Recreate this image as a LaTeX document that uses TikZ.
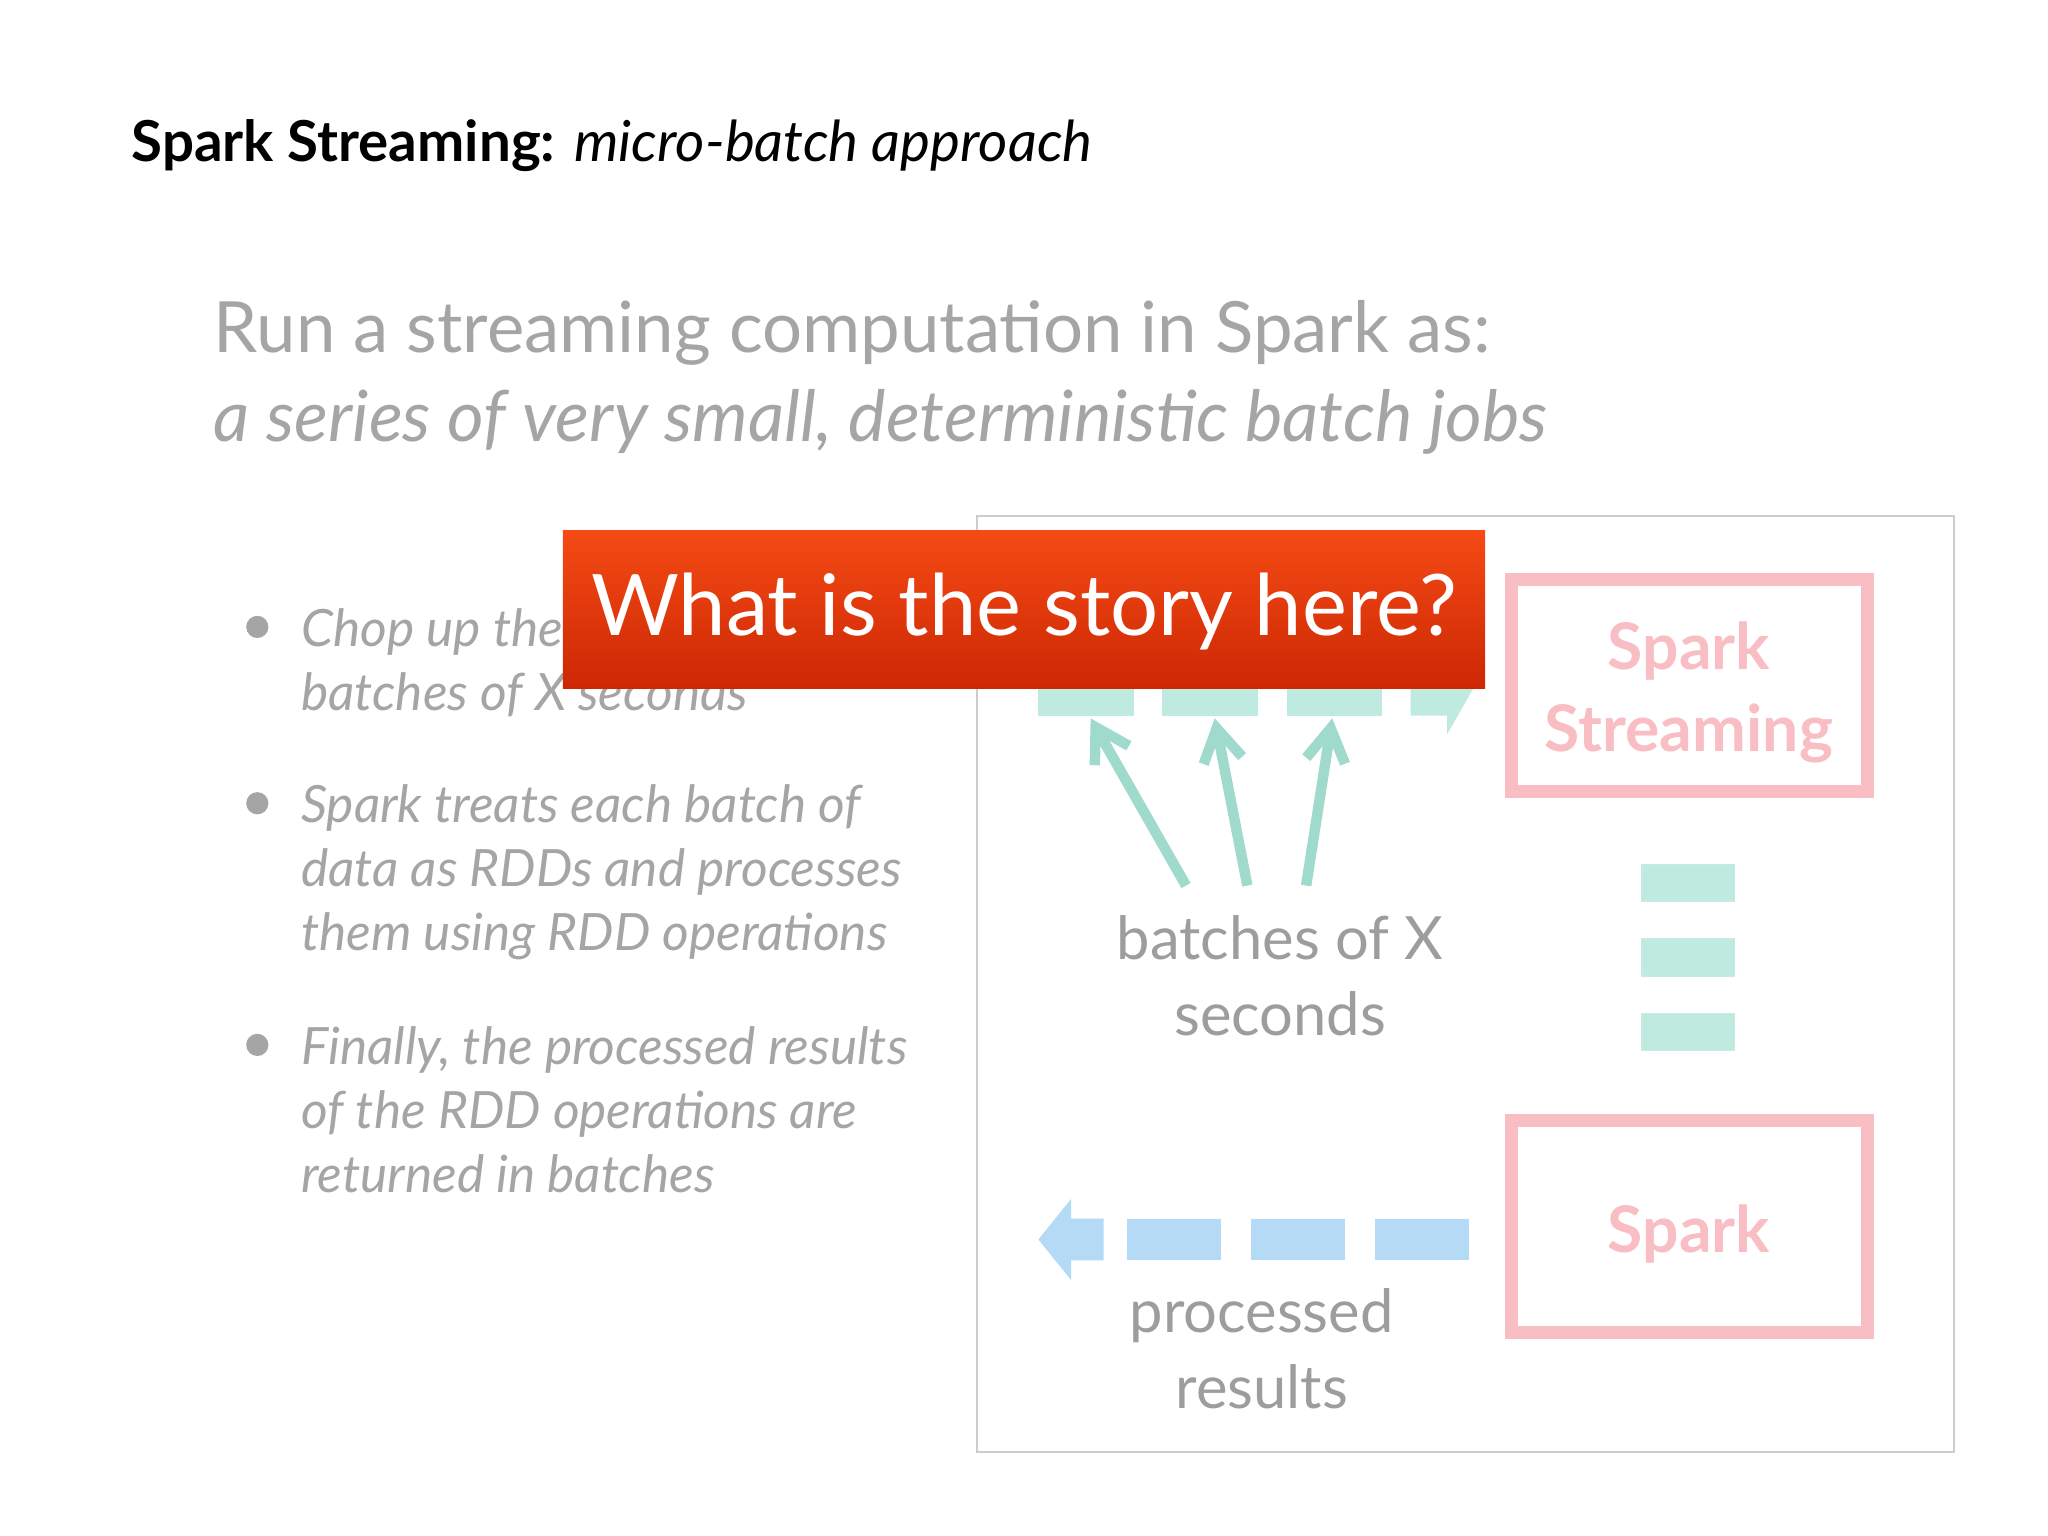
\documentclass[tikz,border=0pt]{standalone}
\usepackage{fontspec}
\setmainfont{Lato}
\usetikzlibrary{shapes.arrows,arrows.meta}
\definecolor{txtgray}{RGB}{165,165,165}
\definecolor{teal1}{RGB}{190,234,224}
\definecolor{teal2}{RGB}{160,218,205}
\definecolor{blue1}{RGB}{180,218,245}
\definecolor{pink1}{RGB}{248,190,195}
\definecolor{redtop}{RGB}{244,74,20}
\definecolor{redbot}{RGB}{205,40,5}
\tikzset{
  bul/.style={anchor=base west,inner sep=0,font=\fontsize{11.2}{14}\selectfont\itshape,text=txtgray},
  lbl/.style={font=\fontsize{13}{16}\selectfont,text=txtgray!95!black,align=center},
  pinkbox/.style={draw=pink1,line width=1.0mm},
  pinktxt/.style={font=\fontsize{14}{18}\selectfont\bfseries,text=pink1},
  tealseg/.style={fill=teal1,draw=none},
  blueseg/.style={fill=blue1,draw=none},
  tarr/.style={draw=teal2,line width=0.8mm,-{Straight Barb[length=2.5mm,width=3mm]}}
}
\begin{document}
\begin{tikzpicture}[x=1cm,y=1cm]
\useasboundingbox[fill=white] (0,0) rectangle (15.68,-11.76);
% title
\node[anchor=base west,inner sep=0] (title) at (1.0,-1.24) {\fontsize{12.3}{14}\selectfont\textbf{Spark Streaming:} \itshape micro-batch approach};
% heading
\node[anchor=base west,inner sep=0,text=txtgray] (h1) at (1.63,-2.70) {\fontsize{15.4}{20}\selectfont Run a streaming computation in Spark as:};
\node[anchor=base west,inner sep=0,text=txtgray] (h2) at (1.63,-3.38) {\fontsize{15.4}{20}\selectfont\itshape a series of very small, deterministic batch jobs};
% bullets
\foreach \y in {4.82,6.17,8.02}{\fill[txtgray] (1.97,-\y+0.02) circle (0.085);}
\node[bul] (b1a) at (2.30,-4.95) {Chop up the live stream into};
\node[bul] (b1b) at (2.30,-5.44) {batches of X seconds};
\node[bul] (b2a) at (2.30,-6.30) {Spark treats each batch of};
\node[bul] (b2b) at (2.30,-6.79) {data as RDDs and processes};
\node[bul] (b2c) at (2.30,-7.28) {them using RDD operations};
\node[bul] (b3a) at (2.30,-8.15) {Finally, the processed results};
\node[bul] (b3b) at (2.30,-8.64) {of the RDD operations are};
\node[bul] (b3c) at (2.30,-9.13) {returned in batches};
% frame
\draw[draw=black!20,fill=white] (7.48,-3.95) rectangle (14.96,-11.12);
% teal stream
\fill[tealseg] (7.95,-5.20) rectangle (8.68,-5.48);
\fill[tealseg] (8.90,-5.20) rectangle (9.63,-5.48);
\fill[tealseg] (9.85,-5.20) rectangle (10.58,-5.48);
\fill[tealseg] (10.80,-5.20) -- (11.32,-5.20) -- (11.08,-5.62) -- (11.08,-5.48) -- (10.80,-5.48) -- cycle;
\coordinate (s1) at (8.35,-5.50);
\coordinate (s2) at (9.30,-5.50);
\coordinate (s3) at (10.20,-5.50);
\coordinate (a1) at (9.08,-6.78);
\coordinate (a2) at (9.55,-6.78);
\coordinate (a3) at (10.00,-6.78);
\draw[tarr] (a1) -- (s1);
\draw[tarr] (a2) -- (s2);
\draw[tarr] (a3) -- (s3);
\node[lbl] (bx) at (9.80,-7.47) {batches of X\\[0.02cm]seconds};
% spark streaming box
\draw[pinkbox] (11.57,-4.44) rectangle (14.30,-6.06);
\node[pinktxt,align=center] (ss) at (12.93,-5.30) {Spark\\[0.0cm]Streaming};
% small teal rects
\foreach \y in {6.62,7.19,7.76}{\fill[tealseg,draw=teal2!60] (12.57,-\y) rectangle (13.28,-\y-0.28);}
% spark box
\draw[pinkbox] (11.57,-8.58) rectangle (14.30,-10.20);
\node[pinktxt] (sp) at (12.93,-9.45) {Spark};
% blue results
\fill[blueseg] (8.63,-9.33) rectangle (9.35,-9.65);
\fill[blueseg] (9.58,-9.33) rectangle (10.30,-9.65);
\fill[blueseg] (10.53,-9.33) rectangle (11.25,-9.65);
\fill[blueseg] (8.45,-9.33) -- (8.20,-9.33) -- (8.20,-9.18) -- (7.95,-9.49) -- (8.20,-9.80) -- (8.20,-9.65) -- (8.45,-9.65) -- cycle;
\node[lbl] (pr) at (9.66,-10.33) {processed\\[0.02cm]results};
% red banner
\shade[top color=redtop,bottom color=redbot] (4.31,-4.06) rectangle (11.37,-5.27);
\node[text=white,font=\fontsize{18.5}{22}\selectfont] (q) at (7.84,-4.68) {What is the story here?};
\end{tikzpicture}
\end{document}
